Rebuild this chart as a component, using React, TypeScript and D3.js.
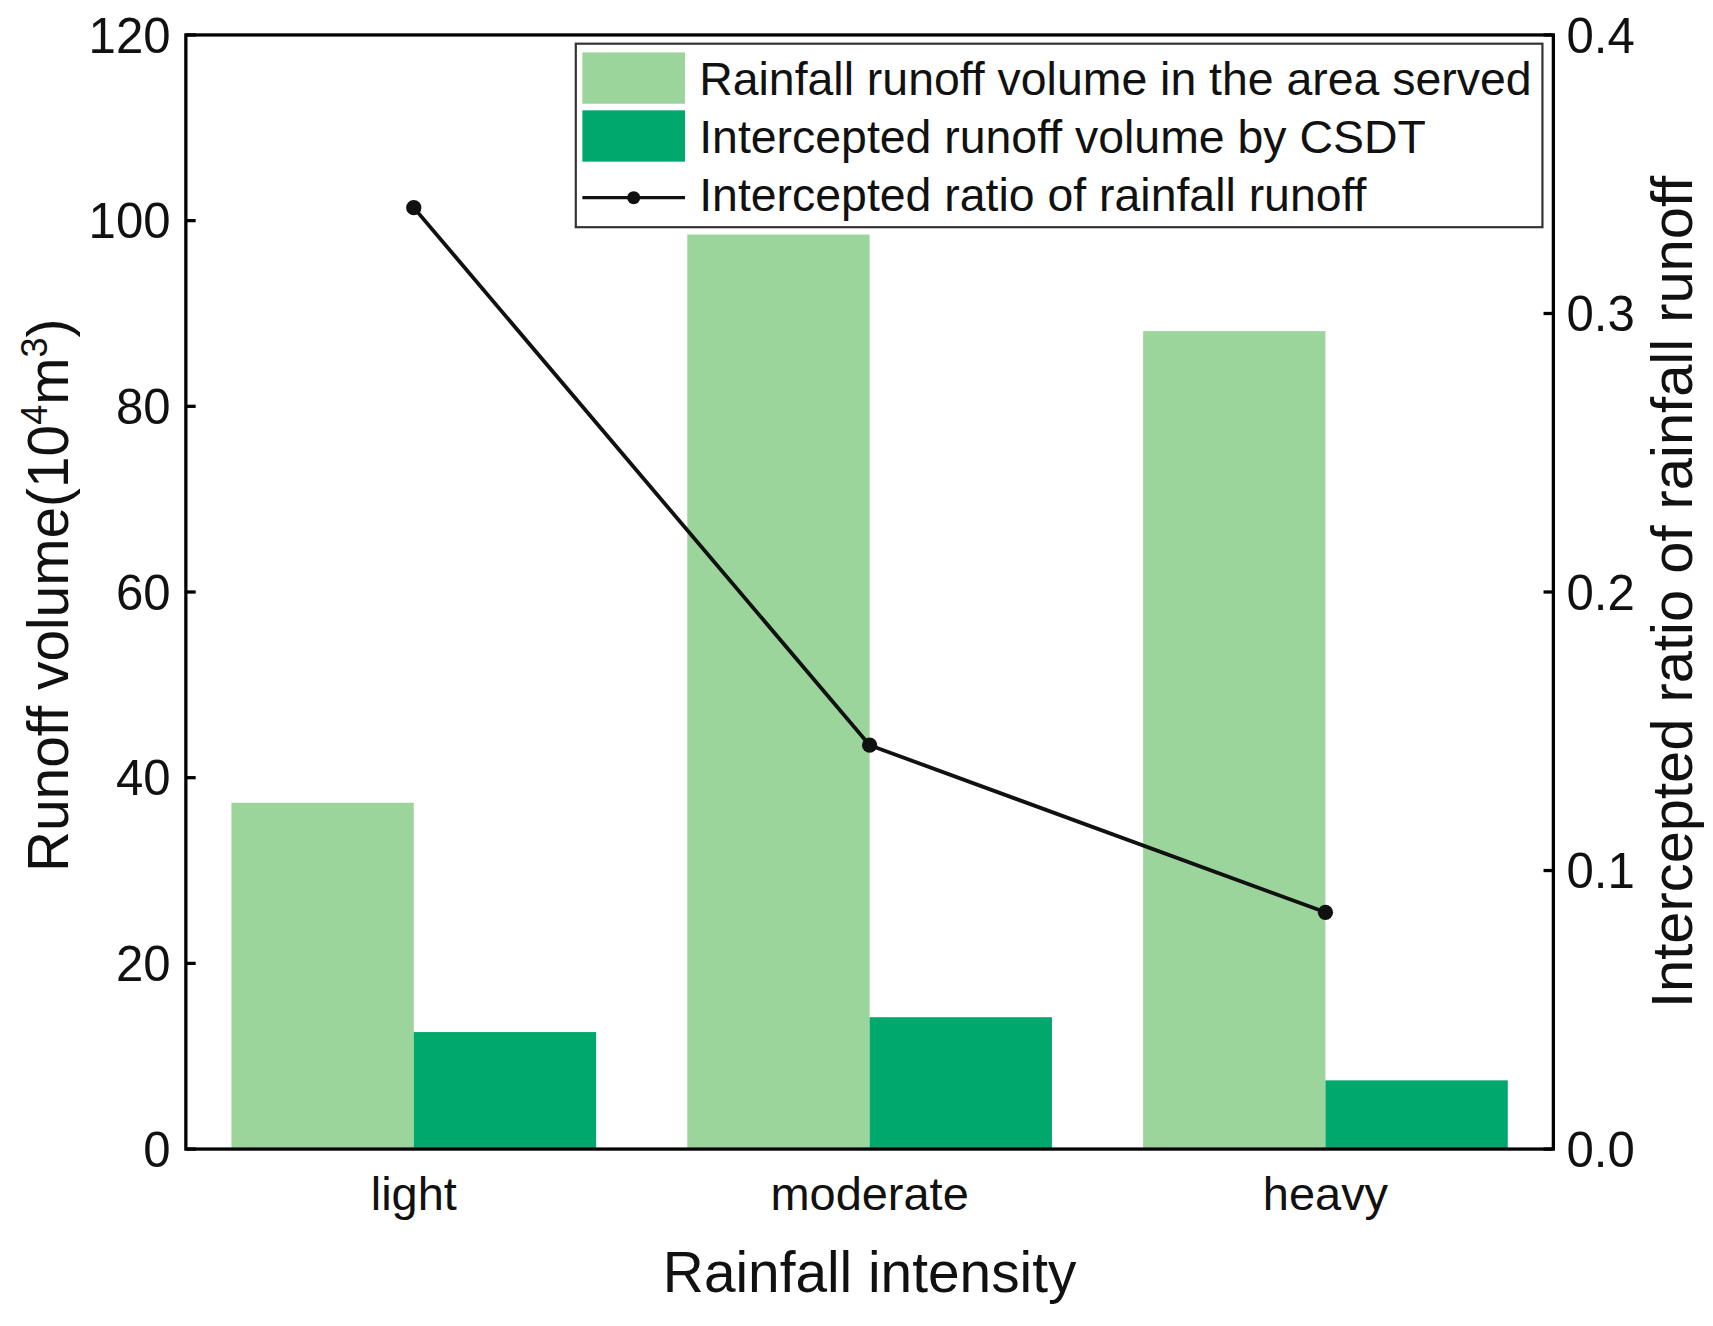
import * as d3 from 'd3';
import { useEffect } from 'react';

const categories = ['light', 'moderate', 'heavy'];
const rainfallRunoff = [37.3, 98.5, 88.1];
const interceptedRunoff = [12.6, 14.2, 7.4];
const interceptedRatio = [0.338, 0.145, 0.085];
const leftTicks = [0, 20, 40, 60, 80, 100, 120];
const rightTicks = [0, 0.1, 0.2, 0.3, 0.4];
const legendLabels = [
  'Rainfall runoff volume in the area served',
  'Intercepted runoff volume by CSDT',
  'Intercepted ratio of rainfall runoff',
];

const VW = 1568;
const VH = 1214;
const margin = { top: 32, right: 146, bottom: 162, left: 170 };
const innerWidth = VW - margin.left - margin.right;
const innerHeight = VH - margin.top - margin.bottom;
const lightGreen = '#9bd59b';
const darkGreen = '#00a86d';
const font = '"Liberation Sans", Arial, sans-serif';

export default function App(): React.ReactElement {
  useEffect(() => {
    document.body.style.margin = '0';
  }, []);

  const x = d3.scaleBand().domain(categories).range([0, innerWidth]).paddingInner(0).paddingOuter(0);
  const bw = x.bandwidth() * 0.4;
  const y = d3.scaleLinear().domain([0, 120]).range([innerHeight, 0]);
  const y2 = d3.scaleLinear().domain([0, 0.4]).range([innerHeight, 0]);

  const line = d3
    .line<number>()
    .x((_, i) => (x(categories[i]) || 0) + x.bandwidth() / 2)
    .y((d) => y2(d));

  return (
    <svg width={1713} height={1326} viewBox={`0 0 ${VW} ${VH}`} style={{ display: 'block', background: '#fff' }}>
      <g transform={`translate(${margin.left},${margin.top})`} fontFamily={font}>
        {/* bars */}
        {categories.map((c, i) => {
          const cx = (x(c) || 0) + x.bandwidth() / 2;
          return (
            <g key={c}>
              <rect x={cx - bw} y={y(rainfallRunoff[i])} width={bw} height={innerHeight - y(rainfallRunoff[i])} fill={lightGreen} />
              <rect x={cx} y={y(interceptedRunoff[i])} width={bw} height={innerHeight - y(interceptedRunoff[i])} fill={darkGreen} />
            </g>
          );
        })}

        {/* ratio line */}
        <path d={line(interceptedRatio) || ''} fill="none" stroke="#111" strokeWidth={3.5} />
        {interceptedRatio.map((d, i) => (
          <circle key={i} cx={(x(categories[i]) || 0) + x.bandwidth() / 2} cy={y2(d)} r={7} fill="#111" />
        ))}

        {/* frame */}
        <rect x={0} y={0} width={innerWidth} height={innerHeight} fill="none" stroke="#000" strokeWidth={3} />

        {/* left axis */}
        {leftTicks.map((t) => (
          <g key={t} transform={`translate(0,${y(t)})`}>
            <line x1={0} x2={9} stroke="#000" strokeWidth={3} />
            <text x={-14} dy="0.36em" textAnchor="end" fontSize={45} fill="#111">
              {t}
            </text>
          </g>
        ))}

        {/* right axis */}
        {rightTicks.map((t) => (
          <g key={t} transform={`translate(${innerWidth},${y2(t)})`}>
            <line x1={0} x2={-9} stroke="#000" strokeWidth={3} />
            <text x={12} dy="0.36em" textAnchor="start" fontSize={45} fill="#111">
              {t.toFixed(1)}
            </text>
          </g>
        ))}

        {/* x labels */}
        {categories.map((c) => (
          <text key={c} x={(x(c) || 0) + x.bandwidth() / 2} y={innerHeight + 56} textAnchor="middle" fontSize={43} fill="#111">
            {c}
          </text>
        ))}
        <text x={innerWidth / 2 + 0} y={innerHeight + 131} textAnchor="middle" fontSize={52} fill="#111">
          Rainfall intensity
        </text>

        {/* left title */}
        <text transform={`translate(${-108},${innerHeight / 2 + 3}) rotate(-90)`} textAnchor="middle" fontSize={52} fill="#111">
          Runoff volume(10
          <tspan dy={-19} fontSize={33}>4</tspan>
          <tspan dy={19}>m</tspan>
          <tspan dy={-19} fontSize={33}>3</tspan>
          <tspan dy={19}>)</tspan>
        </text>

        {/* right title */}
        <text transform={`translate(${innerWidth + 127},${innerHeight / 2}) rotate(-90)`} textAnchor="middle" fontSize={53} fill="#111">
          Intercepted ratio of rainfall runoff
        </text>

        {/* legend */}
        <g transform="translate(357,8)">
          <rect x={0} y={0} width={885} height={168} fill="#fff" stroke="#333" strokeWidth={2} />
          <rect x={6} y={8} width={94} height={47} fill={lightGreen} />
          <rect x={6} y={61} width={94} height={47} fill={darkGreen} />
          <line x1={6} x2={100} y1={141} y2={141} stroke="#111" strokeWidth={3} />
          <circle cx={53} cy={141} r={6} fill="#111" />
          {legendLabels.map((l, i) => (
            <text key={l} x={113} y={32 + i * 53} dy="0.36em" fontSize={42.5} fill="#111">
              {l}
            </text>
          ))}
        </g>
      </g>
    </svg>
  );
}
